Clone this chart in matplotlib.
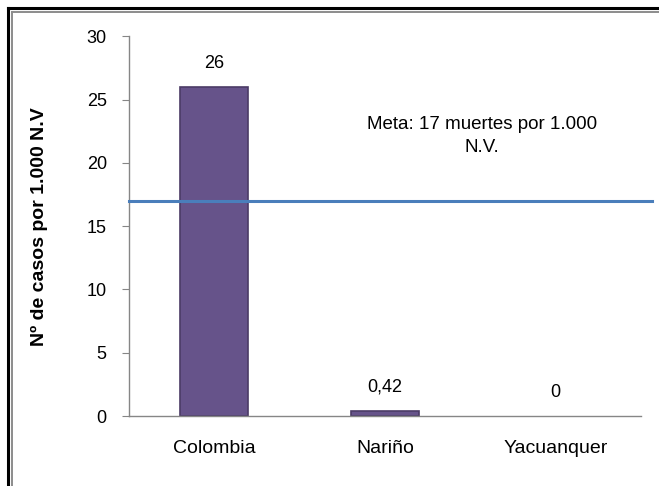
import matplotlib
matplotlib.use("Agg")
import matplotlib.pyplot as plt
import matplotlib.transforms as mtransforms
from matplotlib.lines import Line2D

plt.rcParams["font.family"] = ["Liberation Sans", "DejaVu Sans"]

categories = ["Colombia", "Nariño", "Yacuanquer"]
values = [26, 0.42, 0]
value_labels = ["26", "0,42", "0"]
meta = 17
meta_text = "Meta: 17 muertes por 1.000\nN.V."
y_ticks = [0, 5, 10, 15, 20, 25, 30]

fig = plt.figure(figsize=(6.59, 4.86), dpi=100)
ax = fig.add_axes([0.1958, 0.144, 0.7769, 0.7811])

x = range(len(categories))
edge_w = [1.2 if v > 0 else 0 for v in values]
ax.bar(x, values, width=0.40, color="#66538a", edgecolor="#4b3b66",
       linewidth=edge_w, zorder=2)

for xi, v, lab in zip(x, values, value_labels):
    ax.annotate(lab, (xi, v), xytext=(0, 17), textcoords="offset points",
                ha="center", va="center", fontsize=13, color="#000000")

# target line, runs a bit past the plot area on the right
trans = mtransforms.blended_transform_factory(ax.transAxes, ax.transData)
ax.plot([0, 1.021], [meta, meta], color="#4a7ebb", linewidth=2.2,
        transform=trans, clip_on=False, zorder=3)
ax.text(1.57, 22.1, meta_text, ha="center", va="center", fontsize=13.5,
        linespacing=1.45)

ax.set_xlim(-0.5, 2.5)
ax.set_ylim(0, 30)
ax.set_yticks(y_ticks)
ax.set_xticks(list(x))
ax.set_xticklabels(categories)

for side in ["top", "right"]:
    ax.spines[side].set_visible(False)
for side in ["left", "bottom"]:
    ax.spines[side].set_color("#868686")
    ax.spines[side].set_linewidth(1.0)

ax.tick_params(axis="y", direction="out", length=5, color="#868686", pad=11, labelsize=13)
ax.tick_params(axis="x", length=0, pad=17, labelsize=14)

ax.set_ylabel("Nº de casos por 1.000 N.V", fontsize=14, fontweight="bold")
ax.yaxis.set_label_coords(-0.158, 0.5)

# outer double frame (cut on right and bottom)
fig.add_artist(Line2D([0.012, 0.012], [0, 0.984], color="black", linewidth=2.2,
                      transform=fig.transFigure))
fig.add_artist(Line2D([0.012, 1], [0.984, 0.984], color="black", linewidth=2.2,
                      transform=fig.transFigure))
fig.add_artist(Line2D([0.0175, 0.0175], [0, 0.976], color="#8c8c8c", linewidth=1.4,
                      transform=fig.transFigure))
fig.add_artist(Line2D([0.0175, 1], [0.976, 0.976], color="#8c8c8c", linewidth=1.4,
                      transform=fig.transFigure))

fig.savefig("out.png", dpi=100)
